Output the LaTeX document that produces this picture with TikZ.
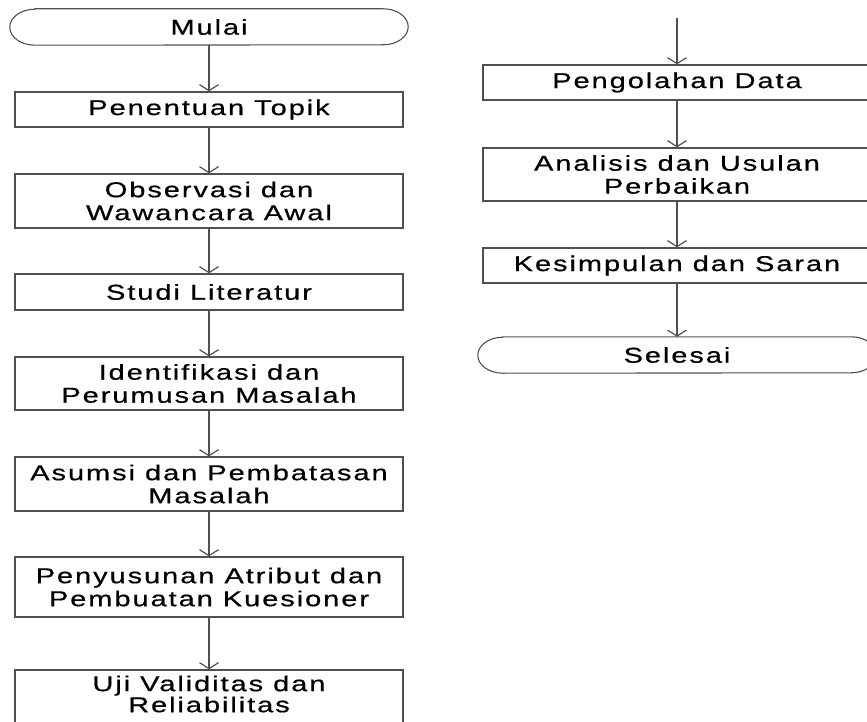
\documentclass[tikz,border=0pt]{standalone}
\usepackage{fontspec}
\setmainfont{Liberation Sans}[FakeStretch=1.35,LetterSpace=9,FakeBold=0.6]
\usetikzlibrary{arrows.meta}
\definecolor{linec}{HTML}{505050}
\tikzset{
  box/.style={draw=linec,line width=1.3pt,rectangle,minimum width=388pt,align=center,
    font=\fontsize{21.5}{23}\selectfont,inner sep=0pt},
  term/.style={rectangle,minimum width=398pt,minimum height=36pt,align=center,
    font=\fontsize{21.5}{23}\selectfont,inner sep=0pt},
  conn/.style={draw=linec,line width=1.3pt,-{Straight Barb[length=6pt,width=19pt,line width=1.2pt]}},
  stadium/.style={draw=linec,line width=1.1pt}
}
\begin{document}
\begin{tikzpicture}[x=1pt,y=-1pt]
\useasboundingbox (0,0) rectangle (867,722);
\fill[white] (0,0) rectangle (867,722);
\begin{scope}
\clip (0,0) rectangle (867,722);
% left column
\node[term] (mulai) at (209,27) {Mulai};
\node[box,minimum height=35pt] (topik) at (209,109.5) {Penentuan Topik};
\node[box,minimum height=54pt] (obs) at (209,201) {Observasi dan\\Wawancara Awal};
\node[box,minimum height=36pt] (studi) at (209,292) {Studi Literatur};
\node[box,minimum height=53pt] (ident) at (209,383.5) {Identifikasi dan\\Perumusan Masalah};
\node[box,minimum height=54pt] (asumsi) at (209,484) {Asumsi dan Pembatasan\\Masalah};
\node[box,minimum height=60pt] (susun) at (209,587) {Penyusunan Atribut dan\\Pembuatan Kuesioner};
\node[box,minimum height=58pt,text depth=0pt] (uji) at (209,699) {};
\node[font=\fontsize{21.5}{19}\selectfont,align=center,inner sep=0pt] (ujitext) at (209,694) {Uji Validitas dan\\Reliabilitas};
% right column
\coordinate (rtop) at (677,18);
\node[box,minimum height=35pt] (olah) at (677,82.5) {Pengolahan Data};
\node[box,minimum height=53pt] (anal) at (677,174.5) {Analisis dan Usulan\\Perbaikan};
\node[box,minimum height=35pt] (simp) at (677,265.5) {Kesimpulan dan Saran};
\node[term] (selesai) at (677,355) {Selesai};
% stadium outlines
\foreach \n in {mulai,selesai}{
  \draw[stadium] ([xshift=25pt]\n.north west) -- ([xshift=-25pt]\n.north east)
    arc[start angle=90,end angle=-90,x radius=25pt,y radius=18pt]
    -- ([xshift=25pt]\n.south west)
    arc[start angle=270,end angle=90,x radius=25pt,y radius=18pt] -- cycle;
}
% connectors
\draw[conn] (mulai) -- (topik);
\draw[conn] (topik) -- (obs);
\draw[conn] (obs) -- (studi);
\draw[conn] (studi) -- (ident);
\draw[conn] (ident) -- (asumsi);
\draw[conn] (asumsi) -- (susun);
\draw[conn] (susun) -- (uji);
\draw[conn] (rtop) -- (olah);
\draw[conn] (olah) -- (anal);
\draw[conn] (anal) -- (simp);
\draw[conn] (simp) -- (selesai);
\end{scope}
\end{tikzpicture}
\end{document}
